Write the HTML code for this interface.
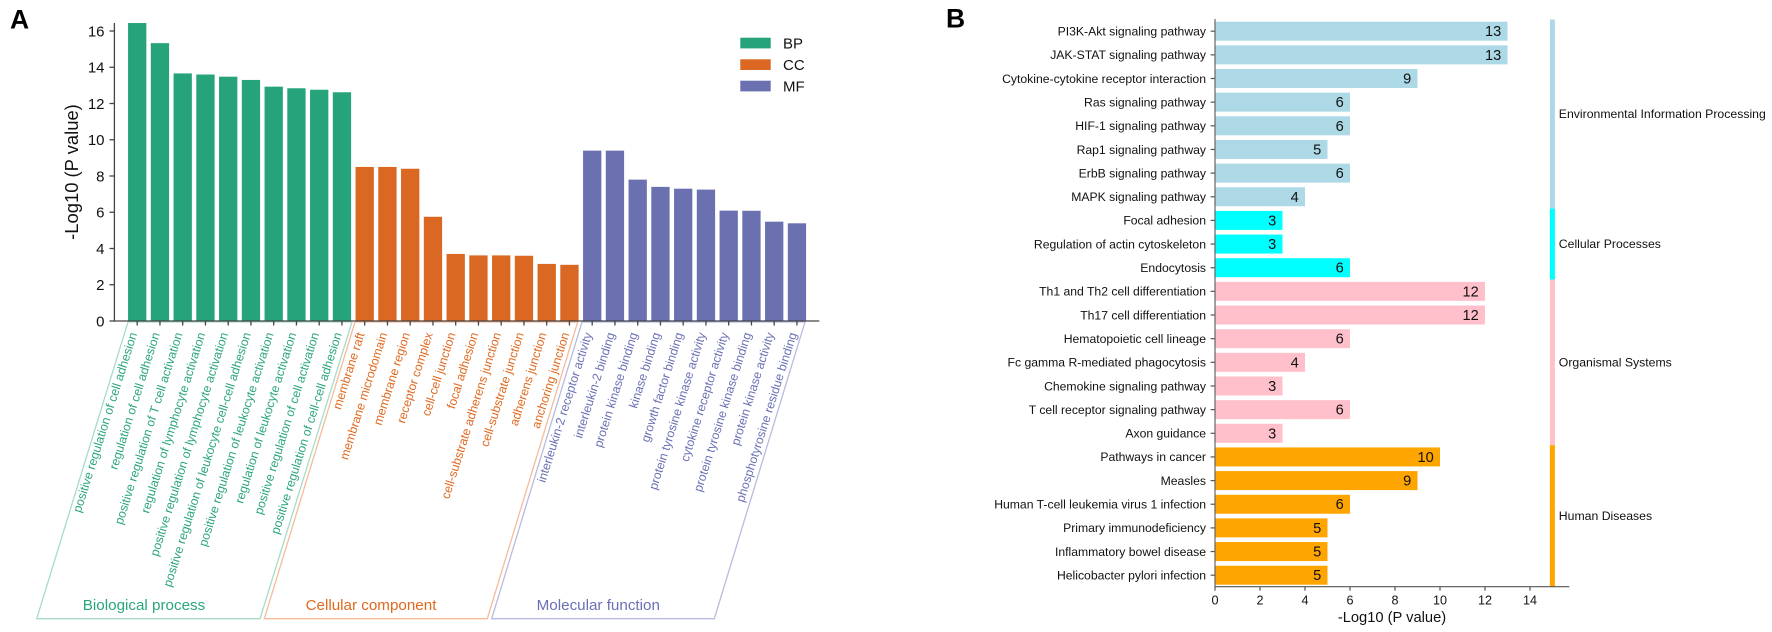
<!DOCTYPE html>
<html lang="en">
<head>
<meta charset="utf-8">
<title>Enrichment charts</title>
<style>
html,body{margin:0;padding:0;background:#fff;}
svg{display:block;font-family:"Liberation Sans",Arial,sans-serif;filter:blur(0.35px);}
</style>
</head>
<body>
<svg id="chart" xmlns="http://www.w3.org/2000/svg" width="1772" height="632" viewBox="0 0 1772 632">
  <rect x="0" y="0" width="1772" height="632" fill="#fff"/>
  <text x="10" y="28.5" font-size="26.5" font-weight="bold" fill="#000">A</text>
  <text x="946" y="27.5" font-size="26.5" font-weight="bold" fill="#000">B</text>
  <g id="panelA"></g>
  <g id="panelB"></g>
</svg>
<script>
// Panel A data
const goBpTerms = ["positive regulation of cell adhesion","regulation of cell adhesion","positive regulation of T cell activation","regulation of lymphocyte activation","positive regulation of lymphocyte activation","positive regulation of leukocyte cell-cell adhesion","positive regulation of leukocyte activation","regulation of leukocyte activation","positive regulation of cell activation","positive regulation of cell-cell adhesion"];
const goCcTerms = ["membrane raft","membrane microdomain","membrane region","receptor complex","cell-cell junction","focal adhesion","cell-substrate adherens junction","cell-substrate junction","adherens junction","anchoring junction"];
const goMfTerms = ["interleukin-2 receptor activity","interleukin-2 binding","protein kinase binding","kinase binding","growth factor binding","protein tyrosine kinase activity","cytokine receptor activity","protein tyrosine kinase binding","protein kinase activity","phosphotyrosine residue binding"];
const goBpValues = [16.44,15.33,13.66,13.6,13.48,13.3,12.93,12.84,12.76,12.62];
const goCcValues = [8.5,8.5,8.4,5.75,3.7,3.62,3.62,3.6,3.15,3.1];
const goMfValues = [9.4,9.4,7.8,7.4,7.3,7.25,6.09,6.08,5.48,5.39];
const goYTicks = [0,2,4,6,8,10,12,14,16];
const goGroupShort = ["BP","CC","MF"];
const goGroupLong = ["Biological process","Cellular component","Molecular function"];

// Panel B data
const keggTerms = ["PI3K-Akt signaling pathway","JAK-STAT signaling pathway","Cytokine-cytokine receptor interaction","Ras signaling pathway","HIF-1 signaling pathway","Rap1 signaling pathway","ErbB signaling pathway","MAPK signaling pathway","Focal adhesion","Regulation of actin cytoskeleton","Endocytosis","Th1 and Th2 cell differentiation","Th17 cell differentiation","Hematopoietic cell lineage","Fc gamma R-mediated phagocytosis","Chemokine signaling pathway","T cell receptor signaling pathway","Axon guidance","Pathways in cancer","Measles","Human T-cell leukemia virus 1 infection","Primary immunodeficiency","Inflammatory bowel disease","Helicobacter pylori infection"];
const keggValues = [13,13,9,6,6,5,6,4,3,3,6,12,12,6,4,3,6,3,10,9,6,5,5,5];
const keggXTicks = [0,2,4,6,8,10,12,14];
const keggCategories = ["Environmental Information Processing","Cellular Processes","Organismal Systems","Human Diseases"];
const keggCategoryCounts = [8,3,7,6];

const NS = "http://www.w3.org/2000/svg";
function mk(parent, tag, attrs, txt) {
  const el = document.createElementNS(NS, tag);
  for (const k in attrs) el.setAttribute(k, attrs[k]);
  if (txt !== undefined) el.textContent = txt;
  parent.appendChild(el);
  return el;
}

/* ---------- Panel A ---------- */
const pa = document.getElementById("panelA");
const aY = v => 321 - v * 18.125;
const aXc = i => 137.2 + i * 22.75;
const aBarW = 18.3;
const goColors = ["#27a37b", "#da6722", "#6b71b0"];
const goText = ["#2aa57e", "#e0691f", "#6a70b4"];
const goLine = ["#a6dcc8", "#f5bb9a", "#b8bbe0"];
const goTerms = [goBpTerms, goCcTerms, goMfTerms];
const goVals = [goBpValues, goCcValues, goMfValues];
const goBrackets = [
  "128,322 352,322 260,618.7 36.7,618.7",
  "355,322 577.7,322 487.3,618.7 264.3,618.7",
  "582,322 805,322 714.3,618.7 491.7,618.7"
];
const goGroupX = [144, 371, 598.3];

goGroupLong.forEach((name, g) => {
  const br = mk(pa, "polygon", {points: goBrackets[g], fill: "none", stroke: goLine[g], "stroke-width": 1.3});
  
  
  const lab = mk(pa, "text", {x: goGroupX[g], y: 610, "font-size": 15.2, "text-anchor": "middle", fill: goText[g]}, name);
  
  
});

let idx = 0;
goVals.forEach((vals, g) => {
  vals.forEach((v, j) => {
    const cx = aXc(idx);
    const bar = mk(pa, "rect", {x: cx - aBarW / 2, y: aY(v), width: aBarW, height: 321 - aY(v), fill: goColors[g]});
    
    
    const tick = mk(pa, "line", {x1: cx, x2: cx, y1: 321, y2: 325.5, stroke: "#444", "stroke-width": 1.3});
    
    
    const lx = cx, ly = 334;
    const t = mk(pa, "text", {x: lx, y: ly, "font-size": 12.3, "text-anchor": "end", fill: goText[g], transform: "rotate(-72.5 " + lx + " " + ly + ")"}, goTerms[g][j]);
    
    
    idx++;
  });
});

const aYAxis = mk(pa, "line", {x1: 114.4, x2: 114.4, y1: 23, y2: 321.6, stroke: "#444", "stroke-width": 1.3});


const aXAxis = mk(pa, "line", {x1: 113.8, x2: 819.3, y1: 321, y2: 321, stroke: "#444", "stroke-width": 1.3});



goYTicks.forEach(v => {
  const tk = mk(pa, "line", {x1: 109.5, x2: 114.4, y1: aY(v), y2: aY(v), stroke: "#444", "stroke-width": 1.3});
  
  
  const tl = mk(pa, "text", {x: 104.5, y: aY(v) + 5.4, "font-size": 15, "text-anchor": "end", fill: "#111"}, String(v));
  
  
});

const aTitle = mk(pa, "text", {x: 78, y: 172, "font-size": 18.4, "text-anchor": "middle", fill: "#111", transform: "rotate(-90 78 172)"}, "-Log10 (P value)");



const legendTop = [37.7, 59.3, 80.7];
goGroupShort.forEach((name, g) => {
  const sw = mk(pa, "rect", {x: 740.3, y: legendTop[g], width: 30.4, height: 10.7, fill: goColors[g]});
  
  
  const lt = mk(pa, "text", {x: 783, y: legendTop[g] + 10.7, "font-size": 15, fill: "#111"}, name);
  
  
});

/* ---------- Panel B ---------- */
const pb = document.getElementById("panelB");
const bX = v => 1215 + v * 22.5;
const bYc = i => 31.2 + i * 23.652;
const bBarH = 19;
const bAxisY = 586.7;
const keggColors = ["#add8e6", "#00ffff", "#ffc0cb", "#ffa500"];

let row = 0;
let stripStart = 19.5;
keggCategories.forEach((cat, c) => {
  const n = keggCategoryCounts[c];
  for (let k = 0; k < n; k++) {
    const yc = bYc(row);
    const v = keggValues[row];
    const bar = mk(pb, "rect", {x: bX(0), y: yc - bBarH / 2, width: bX(v) - bX(0), height: bBarH, fill: keggColors[c]});
    
    
    const val = mk(pb, "text", {x: bX(v) - 6.3, y: yc + 5, "font-size": 14.6, "text-anchor": "end", fill: "#111"}, String(v));
    
    
    const tk = mk(pb, "line", {x1: 1210.6, x2: 1215, y1: yc, y2: yc, stroke: "#555", "stroke-width": 1.2});
    
    
    const tl = mk(pb, "text", {x: 1206, y: yc + 4.3, "font-size": 12.2, "text-anchor": "end", fill: "#111"}, keggTerms[row]);
    
    
    row++;
  }
  const stripEnd = row === keggTerms.length ? bAxisY : bYc(row - 0.5);
  const strip = mk(pb, "rect", {x: bX(15) - 2.6, y: stripStart, width: 5, height: stripEnd - stripStart, fill: keggColors[c]});
  
  
  const cl = mk(pb, "text", {x: 1558.8, y: (stripStart + stripEnd) / 2 + 4, "font-size": 12.25, fill: "#111"}, cat);
  
  
  stripStart = stripEnd;
});

const bYAxis = mk(pb, "line", {x1: 1215, x2: 1215, y1: 19, y2: bAxisY, stroke: "#666", "stroke-width": 1.2});


const bXAxis = mk(pb, "line", {x1: 1214.4, x2: 1569.3, y1: bAxisY, y2: bAxisY, stroke: "#555", "stroke-width": 1.2});



keggXTicks.forEach(v => {
  const tk = mk(pb, "line", {x1: bX(v), x2: bX(v), y1: bAxisY, y2: bAxisY + 4, stroke: "#555", "stroke-width": 1.2});
  
  
  const tl = mk(pb, "text", {x: bX(v), y: 604.3, "font-size": 12.6, "text-anchor": "middle", fill: "#111"}, String(v));
  
  
});

const bTitle = mk(pb, "text", {x: 1392, y: 622, "font-size": 14.7, "text-anchor": "middle", fill: "#111"}, "-Log10 (P value)");


</script>
</body>
</html>
